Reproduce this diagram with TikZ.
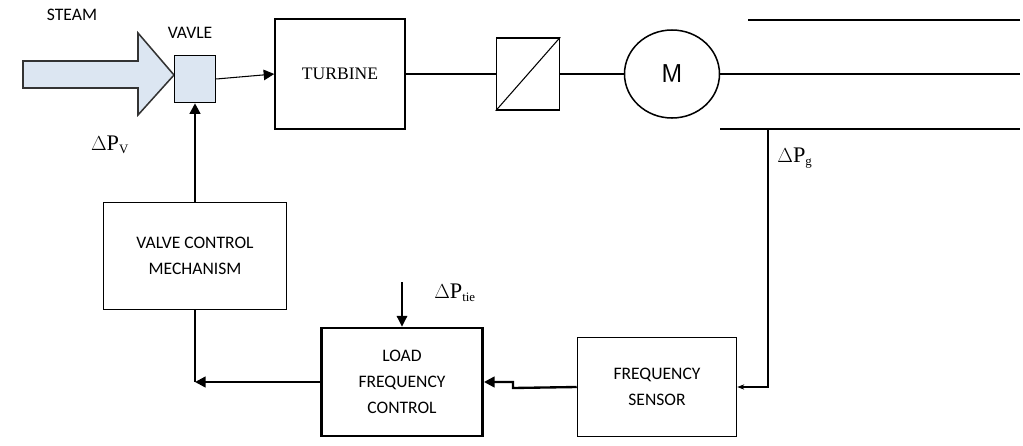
\documentclass[tikz,border=0pt]{standalone}
\usepackage{fontspec}
\setmainfont{Liberation Serif}
\newfontfamily\lab{Carlito}
\usetikzlibrary{arrows.meta,shapes.geometric}
\definecolor{lblue}{HTML}{DCE6F2}
\begin{document}
\begin{tikzpicture}[x=0.03cm,y=-0.03cm,
  blk/.style={draw,line width=1.3pt,inner sep=0pt},
  txt/.style={font=\lab\fontsize{15}{22}\selectfont,align=center},
  conn/.style={line width=0.9pt},
  thk/.style={line width=2pt},
  dp/.style={font=\fontsize{19}{22}\selectfont},
  >={Triangle[length=9pt,width=9pt]}]
\useasboundingbox (0,0) rectangle (1023,446);
% steam arrow
\draw[draw=black!80,fill=lblue,line width=1.3pt] (23,61) -- (138,61) -- (138,33) -- (174,75) -- (138,115) -- (138,88) -- (23,88) -- cycle;
\node[txt] (steam) at (72,15) {STEAM};
\node[blk,fill=lblue,minimum width=41*0.03cm,minimum height=47*0.03cm] (valve) at (195,79) {};
\node[txt] (vlab) at (190,33) {VAVLE};
\node[blk,minimum width=130*0.03cm,minimum height=110*0.03cm,font=\fontsize{15}{18}\selectfont] (turb) at (340,74) {TURBINE};
\node[blk,minimum width=63*0.03cm,minimum height=72*0.03cm] (conv) at (528,74) {};
\draw[conn] (conv.south west) -- (conv.north east);
\node[draw,ellipse,line width=1.3pt,minimum width=95*0.03cm,minimum height=88*0.03cm,font=\sffamily\fontsize{22}{24}\selectfont] (mot) at (672,74) {M};
\coordinate (bus1) at (748,20); \coordinate (bus1e) at (1020,20);
\coordinate (bus2e) at (1020,74);
\coordinate (bus3) at (720,129); \coordinate (bus3e) at (1020,129);
\draw[thk] (bus1) -- (bus1e);
\draw[thk] (bus3) -- (bus3e);
\draw[conn] (mot.east) -- (bus2e);
\draw[conn,->] (valve.east) -- (turb.west);
\draw[conn] (turb.east) -- (conv.west);
\draw[conn] (conv.east) -- (mot.west);
\node[blk,minimum width=183*0.03cm,minimum height=107*0.03cm,txt] (vcm) at (195,256) {VALVE CONTROL\\MECHANISM};
\node[blk,line width=2.5pt,minimum width=161*0.03cm,minimum height=108*0.03cm,txt] (lfc) at (402,382) {LOAD\\FREQUENCY\\CONTROL};
\node[blk,minimum width=159*0.03cm,minimum height=99*0.03cm,txt] (fs) at (657,387) {FREQUENCY\\SENSOR};
\coordinate (tap) at (768,129);
\draw[conn,-{Stealth[length=6pt]}] (tap) |- (fs.east);
\draw[thk,->] (fs.west) -- (513,388) -- (513,382) -- (lfc.east);
\coordinate (corner) at (195,382);
\draw[thk,->] (lfc.west) -- (corner);
\draw[conn] (corner) -- (vcm.south);
\draw[thk,->] (vcm.north) -- (valve.south);
\coordinate (tie) at (402,282);
\draw[conn,->] (tie) -- (lfc.north);
\node[dp] (pv) at (110,145) {$\Delta$P\textsubscript{\fontsize{11}{11}\selectfont V}};
\node[dp] (pg) at (795,158) {$\Delta$P\textsubscript{\fontsize{11}{11}\selectfont g}};
\node[dp] (pt) at (455,293) {$\Delta$P\textsubscript{\fontsize{11}{11}\selectfont tie}};
\end{tikzpicture}
\end{document}
